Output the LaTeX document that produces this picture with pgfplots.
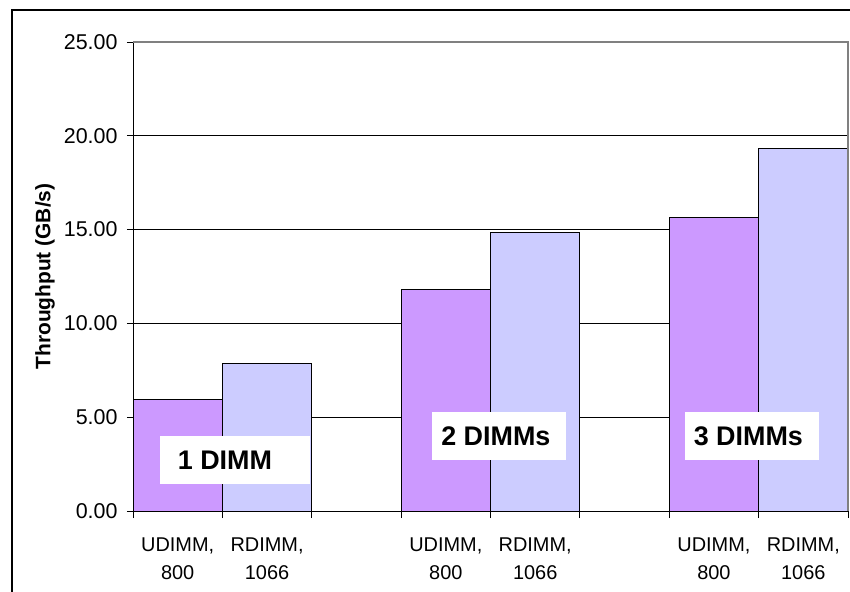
\documentclass[border=0pt]{standalone}
\usepackage{pgfplots}
\pgfplotsset{compat=1.18}
\usepackage{fontspec}
\setmainfont{Liberation Sans}
\definecolor{udimm}{HTML}{CC99FF}
\definecolor{rdimm}{HTML}{CCCCFF}
\definecolor{frame}{HTML}{808080}
\begin{document}
\begin{tikzpicture}
\begin{axis}[
    at={(133bp,81bp)}, anchor=south west,
    scale only axis,
    width=715bp, height=469bp,
    xmin=0, xmax=8,
    ymin=0, ymax=25,
    axis x line*=bottom,
    axis y line*=left,
    axis line style={black, line width=0.9bp, -},
    xtick={0.5,1.5,3.5,4.5,6.5,7.5},
    xticklabels={{UDIMM,\\800},{RDIMM,\\1066},{UDIMM,\\800},{RDIMM,\\1066},{UDIMM,\\800},{RDIMM,\\1066}},
    minor xtick={0,1,...,8},
    major x tick style={draw=none},
    minor x tick style={black, line width=0.9bp},
    minor tick length=7bp,
    major tick length=6bp,
    tick align=outside,
    ytick={0,5,...,25},
    y tick style={black, line width=0.9bp},
    ymajorgrids,
    grid style={black, line width=0.9bp},
    yticklabel style={font=\fontsize{21.5}{26}\selectfont, xshift=-6bp, /pgf/number format/.cd, fixed, fixed zerofill, precision=2, assume math mode=true},
    xticklabel style={font=\fontsize{20}{28}\selectfont, align=center, yshift=-17bp},
    ylabel={\bfseries Throughput (GB/s)},
    every axis y label/.style={at={(rel axis cs:0,0.5)}, xshift=-88bp, rotate=90, anchor=center, font=\fontsize{21}{24}\selectfont},
    clip=false,
]
\addplot[ybar, bar width=1, bar shift=0pt, fill=udimm, draw=black, line width=0.9bp]
    coordinates {(0.5,5.97) (3.5,11.82) (6.5,15.63)};
\addplot[ybar, bar width=1, bar shift=0pt, fill=rdimm, draw=black, line width=0.9bp]
    coordinates {(1.5,7.87) (4.5,14.84) (7.5,19.31)};
% gray plot-area border
\draw[frame, line width=1.2bp] (rel axis cs:0,1) -- (rel axis cs:1,1) -- (rel axis cs:1,0);
% group labels
\fill[white] (axis cs:0.302,1.439) rectangle (axis cs:1.980,3.998);
\fill[white] (axis cs:3.345,2.72) rectangle (axis cs:4.843,5.277);
\fill[white] (axis cs:6.174,2.72) rectangle (axis cs:7.673,5.277);
\node[font=\fontsize{27}{30}\selectfont\bfseries] at (axis cs:1.029,2.72) {1 DIMM};
\node[font=\fontsize{27}{30}\selectfont\bfseries] at (axis cs:4.06,4.0) {2 DIMMs};
\node[font=\fontsize{27}{30}\selectfont\bfseries] at (axis cs:6.885,4.0) {3 DIMMs};
\end{axis}
\draw[black, line width=1.2bp] (12bp,-5bp) -- (12bp,582bp) -- (860bp,582bp);
\pgfresetboundingbox
\path[use as bounding box] (0,0) rectangle (850bp,592bp);
\end{tikzpicture}
\end{document}
